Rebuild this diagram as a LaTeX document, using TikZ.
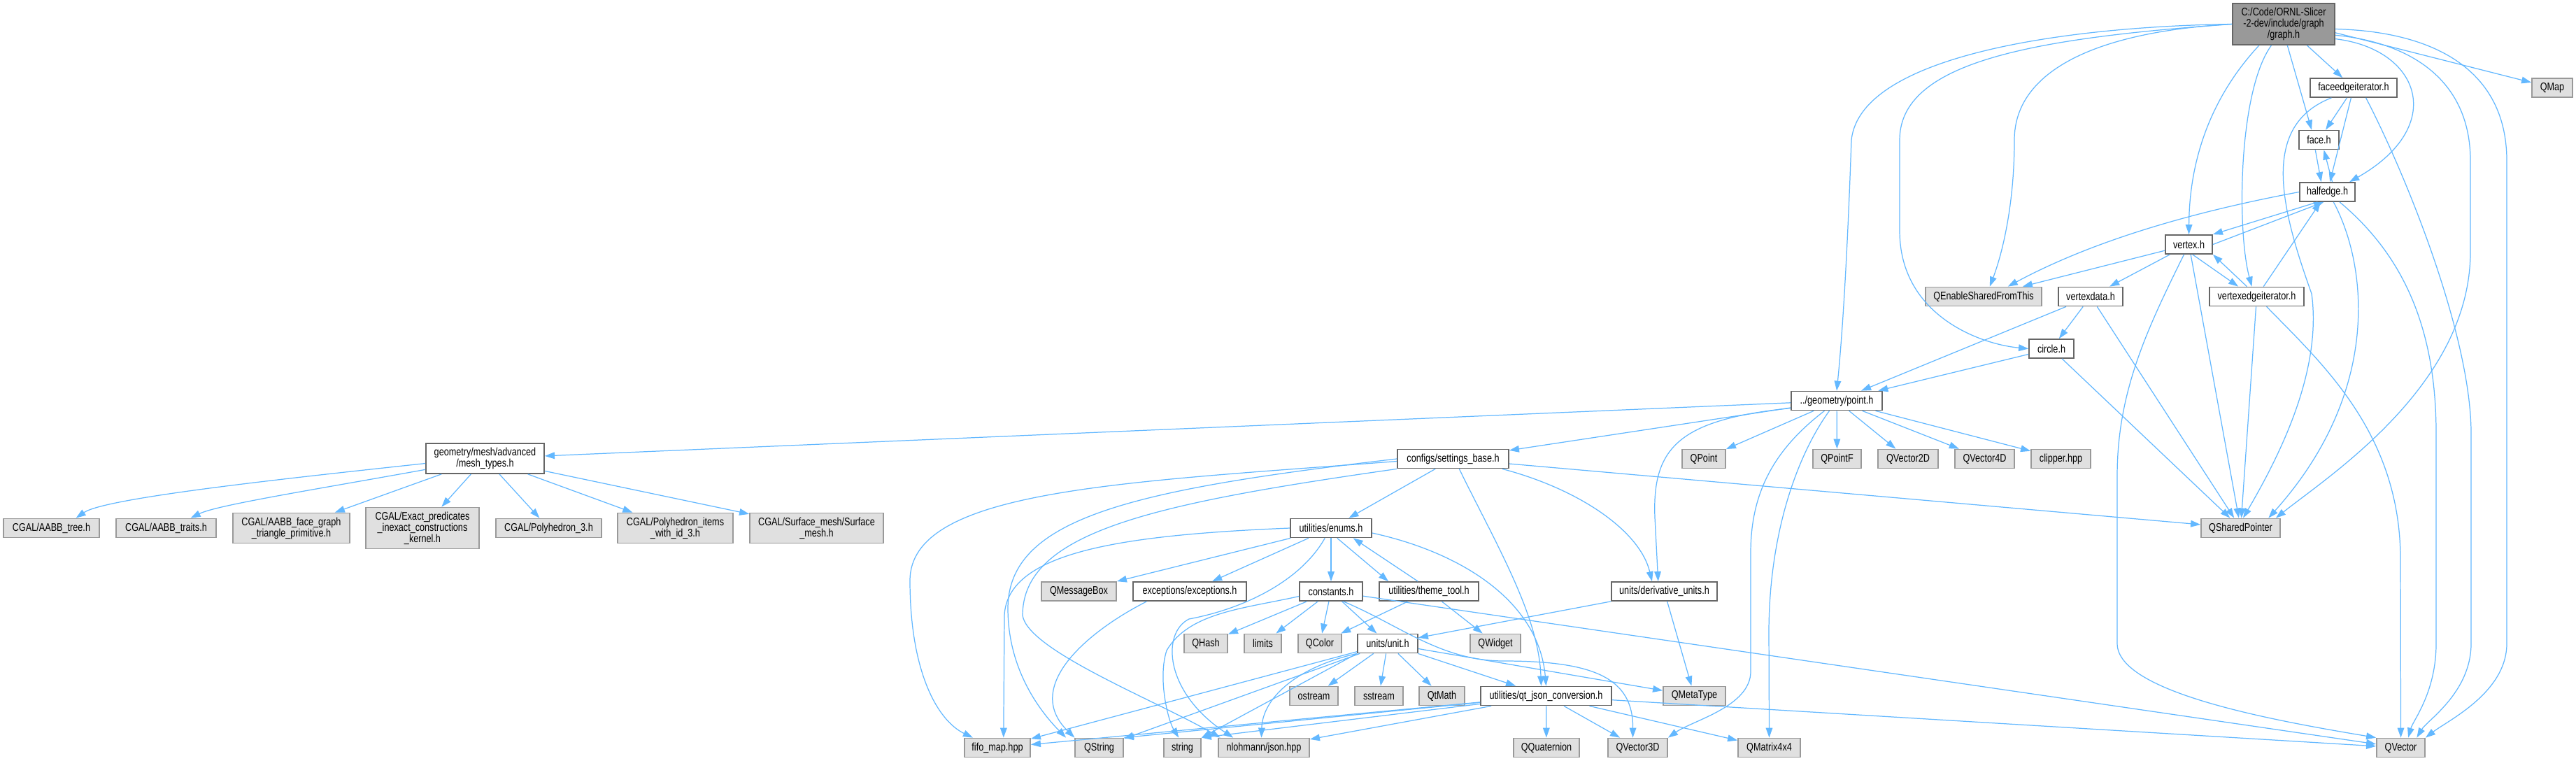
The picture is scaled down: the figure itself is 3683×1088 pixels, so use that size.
\documentclass[tikz,border=0pt]{standalone}
\usepackage{fontspec}
\setmainfont{Liberation Sans}[FakeStretch=0.8]
\usetikzlibrary{arrows.meta}
\definecolor{linkblue}{RGB}{99,184,255}
\definecolor{sysfill}{RGB}{224,224,224}
\definecolor{sysedge}{RGB}{153,153,153}
\definecolor{localedge}{RGB}{102,102,102}
\definecolor{rootfill}{RGB}{153,153,153}
\tikzset{
  localhdr/.style={draw=localedge,fill=white,line width=1pt,inner sep=0pt,align=center,
    font=\fontsize{9}{9.1}\selectfont},
  syshdr/.style={localhdr,draw=sysedge,fill=sysfill},
  mainfile/.style={localhdr,fill=rootfill},
  incl/.style={linkblue,line width=0.7pt,-{Triangle[length=8pt,width=5.5pt]}}
}

\begin{document}
\begin{tikzpicture}[x=0.02cm,y=-0.02cm]
    \path[use as bounding box,fill=white] (0,0) rectangle (3683,1088);
    \node[mainfile,minimum width=2.92cm,minimum height=1.18cm] (graphh) at (3265,34.5)
      {C:/Code/ORNL-Slicer\\-2-dev/include/graph\\/graph.h};
    \foreach \n/\x/\y/\w/\h/\lbl in {
      faceedgeit/3365/125.5/124/27/faceedgeiterator.h,
      faceh/3315.5/200/57/27/face.h,
      halfedge/3327.5/274.5/79/27/halfedge.h,
      vertexh/3129.5/349.5/67/27/vertex.h,
      vertexdata/2989/424/92/27/vertexdata.h,
      vertexedgeit/3226.5/424/135/27/vertexedgeiterator.h,
      circleh/2933/498.5/64/27/circle.h,
      pointh/2626/573/130/27/{../geometry/point.h},
      meshtypes/693.5/655.5/169/43/{geometry/mesh/advanced\\/mesh\_types.h},
      settingsbase/2077.5/656/159/27/{configs/settings\_base.h},
      enums/1903/755/116/27/{utilities/enums.h},
      exceptions/1701/845.5/162/27/{exceptions/exceptions.h},
      constants/1903/845.5/90/27/constants.h,
      themetool/2043/845.5/142/27/{utilities/theme\_tool.h},
      derivunits/2379.5/845.5/151/27/{units/derivative\_units.h},
      unith/1984/920/86/27/{units/unit.h},
      qtjson/2210.5/995/187/27/{utilities/qt\_json\_conversion.h}}
      \node[localhdr,minimum width=\w*0.02cm,minimum height=\h*0.02cm] (\n) at (\x,\y) {\lbl};
    \foreach \n/\x/\y/\w/\h/\lbl in {
      qmap/3649/125.5/58/27/QMap,
      qesft/2836/424/166/27/QEnableSharedFromThis,
      qpoint/2436/656/62/27/QPoint,
      qpointf/2626.5/656/69/27/QPointF,
      qvectorii/2728/656/86/27/QVector2D,
      qvectoriv/2837.5/656/85/27/QVector4D,
      clipper/2946.5/656/85/27/clipper.hpp,
      aabbtree/73.5/755/137/27/{CGAL/AABB\_tree.h},
      aabbtraits/237.5/755/143/27/{CGAL/AABB\_traits.h},
      aabbface/416.5/755/167/43/{CGAL/AABB\_face\_graph\\\_triangle\_primitive.h},
      exactkernel/604/755/162/59/{CGAL/Exact\_predicates\\\_inexact\_constructions\\\_kernel.h},
      polyhedron/784.5/755/151/27/{CGAL/Polyhedron\_3.h},
      polyitems/965.5/755/165/43/{CGAL/Polyhedron\_items\\\_with\_id\_3.h},
      surfacemesh/1167.5/755/191/43/{CGAL/Surface\_mesh/Surface\\\_mesh.h},
      qsharedptr/3203.5/755/113/27/QSharedPointer,
      qmessagebox/1542.5/845.5/107/27/QMessageBox,
      qhash/1724/920/62/27/QHash,
      limits/1805.5/920/53/27/limits,
      qcolor/1887/920/62/27/QColor,
      qwidget/2138/920/72/27/QWidget,
      ostream/1878.5/995/69/27/ostream,
      sstream/1971.5/995/69/27/sstream,
      qtmath/2061.5/995/65/27/QtMath,
      qmetatype/2422.5/995/89/27/QMetaType,
      fifomap/1426/1069/94/27/fifo\_map.hpp,
      qstring/1571.5/1069/69/27/QString,
      stringh/1690.5/1069/53/27/string,
      nlohmann/1807/1069/130/27/{nlohmann/json.hpp},
      qquaternion/2211/1069/94/27/QQuaternion,
      qvectoriii/2341.5/1069/85/27/QVector3D,
      qmatrix/2529.5/1069/89/27/QMatrix4x4,
      qvector/3432.5/1069/69/27/QVector}
      \node[syshdr,minimum width=\w*0.02cm,minimum height=\h*0.02cm] (\n) at (\x,\y) {\lbl};

    \foreach \a/\b in {graphh/faceedgeit, faceedgeit/faceh, faceedgeit/halfedge,
      vertexh/vertexdata, vertexh/qsharedptr, vertexedgeit/halfedge, vertexedgeit/qsharedptr,
      vertexdata/circleh, vertexdata/pointh, vertexdata/qsharedptr, circleh/pointh,
      circleh/qsharedptr, pointh/meshtypes, pointh/settingsbase, pointh/qpoint, pointh/qpointf,
      pointh/qvectorii, pointh/qvectoriv, pointh/clipper, meshtypes/aabbface,
      meshtypes/exactkernel, meshtypes/polyhedron, meshtypes/polyitems, meshtypes/surfacemesh,
      settingsbase/enums, settingsbase/qsharedptr, enums/exceptions, enums/constants,
      constants/qhash, constants/limits, constants/qcolor, constants/unith, constants/qvector,
      themetool/qcolor, themetool/qwidget, derivunits/unith, derivunits/qmetatype,
      unith/ostream, unith/sstream, unith/qtmath, unith/qtjson, unith/qmetatype,
      unith/fifomap, unith/qstring, qtjson/fifomap, qtjson/nlohmann, qtjson/qquaternion,
      qtjson/qvectoriii, qtjson/qmatrix, qtjson/qvector}
      \draw[incl] (\a) -- (\b);

    \draw[incl] ([yshift=-7pt]graphh.east) -- (qmap);
    \draw[incl] ([xshift=3pt]graphh.south) -- ([xshift=-6pt]faceh.north);
    \draw[incl] ([xshift=-3pt]faceh.south) -- ([xshift=-5pt]halfedge.north);
    \draw[incl] ([xshift=4pt]halfedge.north) -- ([xshift=4pt]faceh.south);
    \draw[incl] ([xshift=-8pt]halfedge.south) -- (vertexh.north east);
    \draw[incl] (vertexh.east) -- ([xshift=-3pt]halfedge.south);
    \draw[incl] ([xshift=3pt]vertexh.south) -- ([xshift=-15pt]vertexedgeit.north);
    \draw[incl] ([xshift=-8pt]vertexedgeit.north) -- (vertexh.south east);
    \draw[incl] (vertexh) -- ([xshift=-16pt]qesft.north east);
    \draw[incl] ([xshift=5pt]enums.south) -- ([xshift=-33pt]themetool.north);
    \draw[incl] ([xshift=-9pt]themetool.north) -- ([xshift=18pt]enums.south);
    \draw[incl] (enums) -- (qmessagebox.north east);
    \draw[incl] (qtjson) -- (qstring.north east);
    \draw[incl] (qtjson) -- (stringh.north east);
    \draw[incl] (unith.south west) -- (stringh.north east);

    \draw[incl] (graphh.west) .. controls (2950,38) and (2660,80) .. (2647,200)
      .. controls (2640,400) and (2632,500) .. (pointh.north);
    \draw[incl] (graphh.west) .. controls (2900,55) and (2716,90) .. (2716,200)
      -- (2716,330) .. controls (2716,450) and (2830,492) .. (circleh.west);
    \draw[incl] (graphh.west) .. controls (3000,45) and (2880,100) .. (2880,200)
      .. controls (2880,300) and (2860,370) .. ([xshift=5pt]qesft.north);
    \draw[incl] ([xshift=-20pt]graphh.south) .. controls (3160,140) and (3130,230) .. (vertexh.north);
    \draw[incl] ([xshift=-10pt]graphh.south) .. controls (3200,130) and (3198,330)
      .. ([xshift=-4pt]vertexedgeit.north);
    \draw[incl] ([yshift=-12pt]graphh.east) .. controls (3460,70) and (3500,180)
      .. ([xshift=-5pt]halfedge.north east);
    \draw[incl] ([yshift=-9pt]graphh.east) .. controls (3440,60) and (3532,110) .. (3532,230)
      -- (3532,360) .. controls (3532,550) and (3330,680) .. ([xshift=-4pt]qsharedptr.north east);
    \draw[incl] ([yshift=-4pt]graphh.east) .. controls (3480,45) and (3584,100) .. (3584,230)
      -- (3584,920) .. controls (3584,990) and (3500,1030) .. (qvector.north east);

    \draw[incl] ([xshift=10pt]faceedgeit.south) .. controls (3440,250) and (3533,480) .. (3533,620)
      -- (3533,920) .. controls (3533,990) and (3470,1030) .. ([xshift=13pt]qvector.north);
    \draw[incl] ([xshift=-18pt]faceedgeit.south) .. controls (3230,180) and (3262,300) .. (3305,420)
      .. controls (3320,530) and (3260,650) .. ([xshift=2pt]qsharedptr.north);
    \draw[incl] (halfedge.west) .. controls (3150,300) and (3000,340) .. ([xshift=-28pt]qesft.north east);
    \draw[incl] ([xshift=5pt]halfedge.south) .. controls (3385,380) and (3405,560)
      .. ([xshift=-10pt]qsharedptr.north east);
    \draw[incl] ([xshift=10pt]halfedge.south) .. controls (3430,360) and (3483,460) .. (3483,620)
      -- (3483,920) .. controls (3483,990) and (3450,1030) .. ([xshift=6pt]qvector.north);
    \draw[incl] ([xshift=-4pt]vertexh.south) .. controls (3070,470) and (3027,560) .. (3027,680)
      -- (3027,920) .. controls (3027,990) and (3250,1030) .. (qvector.north west);
    \draw[incl] ([xshift=8pt]vertexedgeit.south) .. controls (3320,520) and (3432,620) .. (3432,800)
      -- (qvector.north);

    \draw[incl] ([yshift=-6pt]pointh.west) .. controls (2400,600) and (2362,640) .. (2366,740)
      -- ([xshift=-5pt]derivunits.north);
    \draw[incl] ([xshift=-10pt]pointh.south) .. controls (2540,640) and (2503,700) .. (2503,790)
      -- (2503,960) .. controls (2503,1010) and (2420,1030) .. (qvectoriii.north east);
    \draw[incl] ([xshift=-6pt]pointh.south) .. controls (2570,650) and (2530,760) .. (2529,900)
      -- (qmatrix.north);
    \draw[incl] ([yshift=-4pt]meshtypes.west) .. controls (400,685) and (150,712)
      .. ([xshift=20pt]aabbtree.north);
    \draw[incl] ([yshift=-9pt]meshtypes.west) .. controls (450,700) and (310,722)
      .. ([xshift=20pt]aabbtraits.north);

    \draw[incl] ([xshift=40pt]settingsbase.south) .. controls (2260,700) and (2345,760)
      .. ([xshift=-10pt]derivunits.north);
    \draw[incl] ([xshift=5pt]settingsbase.south) .. controls (2140,780) and (2200,880)
      .. ([xshift=-4pt]qtjson.north);
    \draw[incl] ([yshift=-2pt]settingsbase.west) .. controls (1600,690) and (1301,700) .. (1301,830)
      .. controls (1301,960) and (1340,1030) .. ([xshift=-20pt]fifomap.north);
    \draw[incl] (settingsbase.west) .. controls (1620,700) and (1441,740) .. (1441,870)
      .. controls (1441,960) and (1490,1020) .. ([xshift=-27pt]qstring.north);
    \draw[incl] (settingsbase.south west) .. controls (1650,720) and (1462,760) .. (1462,880)
      .. controls (1470,930) and (1650,1000) .. ([xshift=2pt]nlohmann.north west);
    \draw[incl] (enums.west) .. controls (1600,765) and (1440,790) .. (1436,880)
      -- ([xshift=5pt]fifomap.north);
    \draw[incl] ([xshift=-5pt]enums.south) .. controls (1860,830) and (1780,870) .. (1700,885)
      .. controls (1660,905) and (1665,990) .. ([xshift=-25pt]nlohmann.north);
    \draw[incl] ([yshift=-4pt]enums.east) .. controls (2090,790) and (2200,860) .. (qtjson.north);
    \draw[incl] ([xshift=-35pt]exceptions.south) .. controls (1560,900) and (1460,980)
      .. ([xshift=-20pt]qstring.north);
    \draw[incl] ([yshift=-4pt]constants.west) .. controls (1780,870) and (1700,875) .. (1668,930)
      .. controls (1655,970) and (1670,1030) .. ([xshift=-3pt]stringh.north);
    \draw[incl] ([xshift=10pt]constants.south) .. controls (2000,893) and (2060,945) .. (2150,945)
      .. controls (2280,945) and (2335,970) .. ([xshift=-4pt]qvectoriii.north);
    \draw[incl] (unith.south west) .. controls (1850,955) and (1805,1000) .. ([xshift=-2pt]nlohmann.north);
\end{tikzpicture}
\end{document}
